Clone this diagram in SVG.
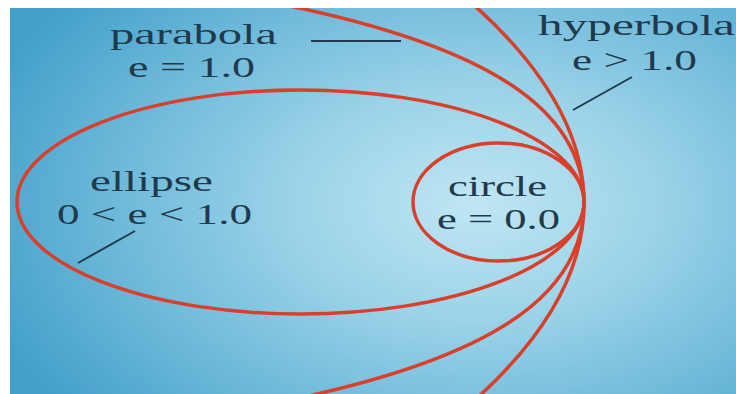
<svg xmlns="http://www.w3.org/2000/svg" width="736" height="394" viewBox="0 0 736 394">
  <style>
    .curve { fill: none; stroke: #d8402c; stroke-width: 3.5; }
    .leader { fill: none; stroke: #1f3a4c; stroke-width: 2; }
    .lbl { font-family: "Liberation Serif", "DejaVu Serif", serif; font-size: 29px; fill: #1f3a4c; }
  </style>
  <defs>
    <radialGradient id="bg" gradientUnits="userSpaceOnUse" cx="475" cy="205" r="330" gradientTransform="translate(475 205) scale(1.58 1) translate(-475 -205)">
      <stop offset="0" stop-color="#c0e6f3"/>
      <stop offset="0.35" stop-color="#9bd3e8"/>
      <stop offset="0.7" stop-color="#6cb8d9"/>
      <stop offset="1" stop-color="#42a0c9"/>
    </radialGradient>
    <clipPath id="panel">
      <rect x="10" y="8" width="726" height="386"/>
    </clipPath>
  </defs>
  <rect x="0" y="0" width="736" height="394" fill="#ffffff"/>
  <rect x="10" y="8" width="726" height="386" fill="url(#bg)"/>

  <g id="curves" clip-path="url(#panel)">
    <g id="ellipse">
      <ellipse class="curve" cx="300.5" cy="202" rx="283.5" ry="112"/>
    </g>
    <g id="circle">
      <ellipse class="curve" cx="498.5" cy="202" rx="85.5" ry="59"/>
    </g>
    <g id="parabola">
      <path class="curve" d="M270,2 C490,45 584,110 584,203 C584,296 490,361 270,404"/>
    </g>
    <g id="hyperbola">
      <path class="curve" d="M466,-2 Q702,203 466,408"/>
    </g>
  </g>

  <g id="connectors">
    <line class="leader" x1="311" y1="41" x2="401" y2="41"/>
    <line class="leader" x1="632" y1="77" x2="573" y2="110"/>
    <line class="leader" x1="135" y1="231" x2="78" y2="263"/>
  </g>

  <g id="labels">
    <g id="label-parabola">
      <text class="lbl" x="110" y="44" textLength="167" lengthAdjust="spacingAndGlyphs">parabola</text>
      <text class="lbl" x="128" y="77" textLength="127" lengthAdjust="spacingAndGlyphs">e = 1.0</text>
    </g>
    <g id="label-hyperbola">
      <text class="lbl" x="538" y="35" textLength="197" lengthAdjust="spacingAndGlyphs">hyperbola</text>
      <text class="lbl" x="572" y="70" textLength="125" lengthAdjust="spacingAndGlyphs">e &gt; 1.0</text>
    </g>
    <g id="label-ellipse">
      <text class="lbl" x="90" y="191" textLength="123" lengthAdjust="spacingAndGlyphs">ellipse</text>
      <text class="lbl" x="57" y="224" textLength="195" lengthAdjust="spacingAndGlyphs">0 &lt; e &lt; 1.0</text>
    </g>
    <g id="label-circle">
      <text class="lbl" x="448" y="196" textLength="99" lengthAdjust="spacingAndGlyphs">circle</text>
      <text class="lbl" x="437" y="229" textLength="123" lengthAdjust="spacingAndGlyphs">e = 0.0</text>
    </g>
  </g>
</svg>
